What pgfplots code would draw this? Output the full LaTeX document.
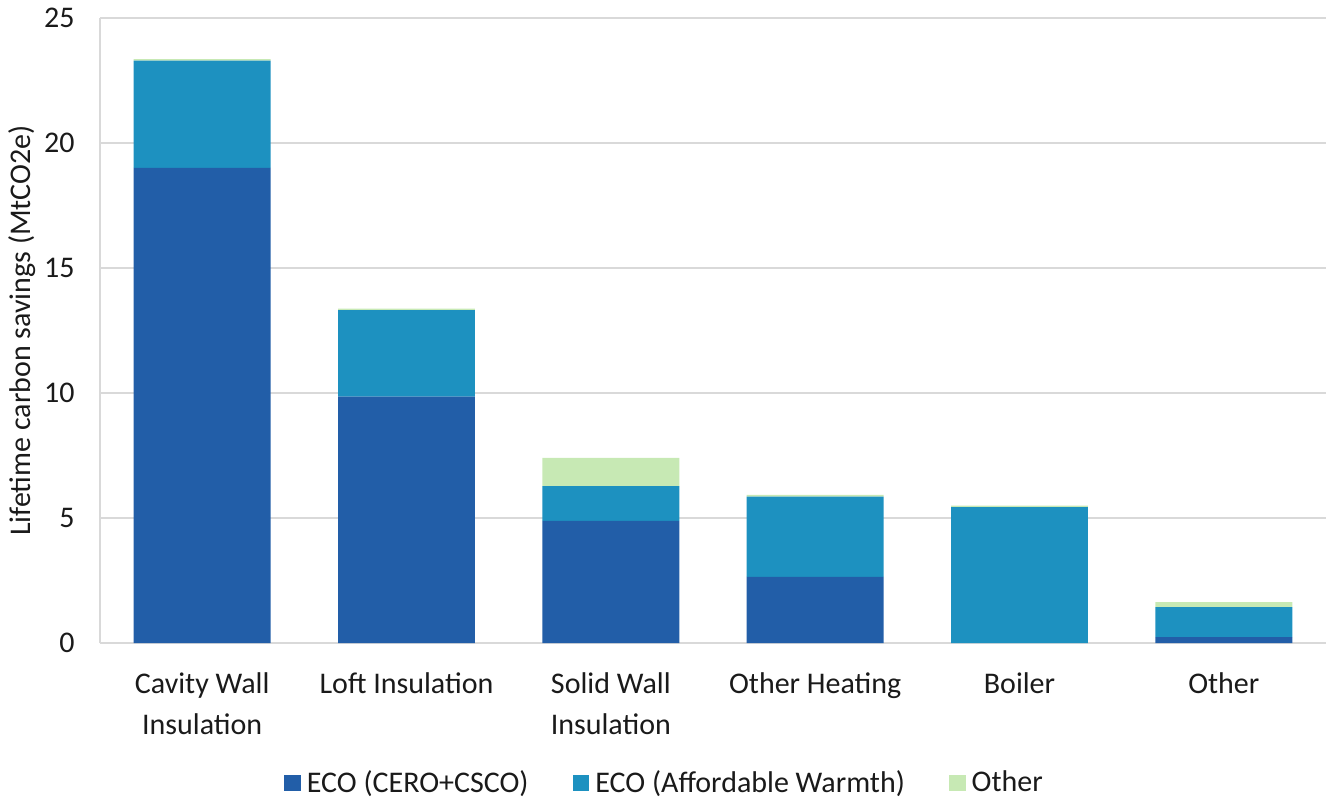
\documentclass[border=0pt]{standalone}
\usepackage{fontspec}
\setmainfont{Carlito}
\usepackage{pgfplots}
\pgfplotsset{compat=1.18}
\definecolor{ecodark}{HTML}{225EA8}
\definecolor{ecomid}{HTML}{1D91C0}
\definecolor{ecolight}{HTML}{C7E9B4}
\definecolor{gridgrey}{HTML}{D9D9D9}
\definecolor{txt}{HTML}{1A1A1A}
\begin{document}
\begin{tikzpicture}[font=\fontsize{15pt}{20.5pt}\selectfont, text=txt]
\begin{axis}[
    name=ax,
    scale only axis,
    width=613pt, height=312.5pt,
    ybar stacked,
    bar width=0.67,
    xmin=-0.5, xmax=5.5,
    ymin=0, ymax=25,
    ytick={0,5,...,25},
    xtick=data,
    xticklabels={Cavity Wall\\Insulation, Loft Insulation, Solid Wall\\Insulation, Other Heating, Boiler, Other},
    xticklabel style={align=center, anchor=north, inner sep=0pt, yshift=-14.5pt},
    yticklabel style={anchor=east, inner sep=0pt, xshift=-12.5pt},
    /pgf/number format/assume math mode=true,
    major tick length=0pt,
    axis x line*=bottom, axis y line*=left,
    axis line style={gridgrey, line width=0.75pt, -},
    ymajorgrids, grid style={gridgrey, line width=0.75pt},
    ylabel={Lifetime carbon savings (MtCO2e)},
    every axis y label/.style={at={(axis description cs:-0.0636,0.5)}, rotate=90, anchor=center},
    legend columns=3,
    legend style={at={(axis description cs:0.462,-0.224)}, anchor=center, draw=none,
        /tikz/every even column/.append style={column sep=19pt},
        nodes={inner sep=3pt}},
    legend image code/.code={\fill[#1] (0pt,-4.2pt) rectangle (8.4pt,4.2pt);},
]
\addplot[fill=ecodark, draw=none] coordinates {(0,19.01) (1,9.86) (2,4.89) (3,2.65) (4,0) (5,0.24)};
\addplot[fill=ecomid, draw=none] coordinates {(0,4.28) (1,3.46) (2,1.39) (3,3.21) (4,5.44) (5,1.20)};
\addplot[fill=ecolight, draw=none] coordinates {(0,0.06) (1,0.06) (2,1.13) (3,0.07) (4,0.06) (5,0.20)};
\legend{ECO (CERO+CSCO), ECO (Affordable Warmth), Other}
\end{axis}
\pgfresetboundingbox
\useasboundingbox ([xshift=-50pt, yshift=-77.5pt]ax.south west) rectangle ([yshift=9pt]ax.north east);
\end{tikzpicture}
\end{document}
